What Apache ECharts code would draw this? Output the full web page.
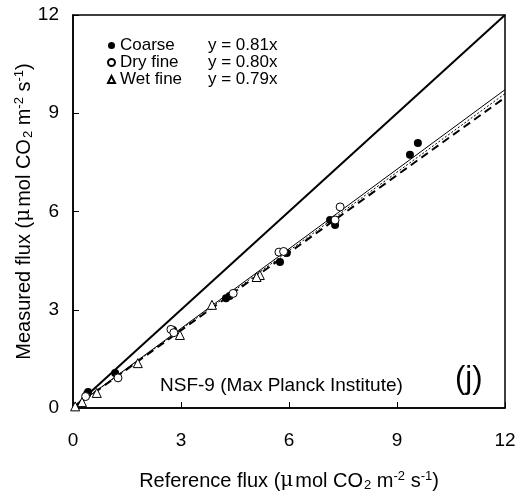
<!DOCTYPE html>
<html>
<head>
<meta charset="utf-8">
<script src="https://cdn.jsdelivr.net/npm/echarts@6/dist/echarts.min.js"></script>
<style>
  html, body { margin: 0; padding: 0; background: #fff; }
  #chart { width: 523px; height: 499px; }
</style>
</head>
<body>
<div id="chart"></div>
<script>
// 数据
const coarsePoints = [
    [0.39, 0.43], [0.42, 0.49], [1.17, 1.07], [2.78, 2.38], [4.25, 3.35],
    [4.35, 3.42], [5.75, 4.46], [5.94, 4.73], [7.14, 5.74], [7.28, 5.59],
    [9.36, 7.73], [9.58, 8.09]
];
const dryFinePoints = [
    [0.35, 0.35], [1.25, 0.92], [2.72, 2.4], [2.8, 2.3], [4.45, 3.5],
    [5.72, 4.76], [5.85, 4.78], [7.28, 5.74], [7.42, 6.14]
];
const wetFinePoints = [
    [0.06, 0.05], [0.25, 0.18], [0.66, 0.46], [1.8, 1.37], [2.97, 2.23],
    [3.86, 3.15], [5.19, 4.06], [5.1, 4.0]
];
const oneToOneLine = [[0, 0], [12, 12]];
const coarseFit = [[0, 0], [12, 9.72]];
const dryFineFit = [[0, 0], [12, 9.6]];
const wetFineFit = [[0, 0], [12, 9.48]];
const seriesNames = ['Coarse', 'Dry fine', 'Wet fine'];
const equations = ['y = 0.81x', 'y = 0.80x', 'y = 0.79x'];
const axisTicks = [0, 3, 6, 9, 12];

const FONT = 'Liberation Sans, Arial, sans-serif';

const chart = echarts.init(document.getElementById('chart'));

const nameRich = {
    n: { fontSize: 20, fontFamily: FONT, color: '#000' },
    mu: { fontSize: 20, fontFamily: 'DejaVu Serif, serif', color: '#000', padding: [0, 2, 0, 0] },
    sub: { fontSize: 13, fontFamily: FONT, color: '#000', padding: [9, 0, 0, 1] },
    sup: { fontSize: 13, fontFamily: FONT, color: '#000', padding: [0, 0, 9, 0] }
};
const axisName = label => '{n|' + label + ' (}{mu|μ}{n|mol CO}{sub|2}{n| m}{sup|-2}{n| s}{sup|-1}{n|)}';

const option = {
    animation: false,
    backgroundColor: '#fff',
    grid: {
        left: 73, right: 18, top: 15, bottom: 91,
        show: true, borderColor: '#000', borderWidth: 1.5
    },
    legend: {
        data: seriesNames,
        orient: 'vertical',
        left: 102, top: 32,
        itemWidth: 7, itemHeight: 7, itemGap: 0,
        textStyle: {
            fontFamily: FONT, fontSize: 17, color: '#000',
            rich: {
                a: { fontFamily: FONT, fontSize: 17, width: 88, color: '#000', lineHeight: 18 },
                b: { fontFamily: FONT, fontSize: 17, color: '#000', lineHeight: 18 }
            }
        },
        formatter: function(name) {
            return '{a|' + name + '}{b|' + equations[seriesNames.indexOf(name)] + '}';
        }
    },
    xAxis: {
        type: 'value', min: 0, max: 12, interval: 3,
        name: axisName('Reference flux'),
        nameLocation: 'middle', nameGap: 62, nameMoveOverlap: false,
        nameTextStyle: { rich: nameRich },
        axisLine: { lineStyle: { color: '#000', width: 1.5 } },
        axisTick: { inside: true, length: 6, lineStyle: { color: '#000' } },
        axisLabel: {
            margin: 23, fontSize: 19, fontFamily: FONT, color: '#000',
            formatter: v => axisTicks.includes(v) ? String(v) : ''
        },
        splitLine: { show: false }
    },
    yAxis: {
        type: 'value', min: 0, max: 12, interval: 3,
        name: axisName('Measured flux'),
        nameLocation: 'middle', nameGap: 38, nameMoveOverlap: false,
        nameTextStyle: { rich: nameRich },
        axisLine: { lineStyle: { color: '#000', width: 1.5 } },
        axisTick: { inside: true, length: 6, lineStyle: { color: '#000' } },
        axisLabel: {
            margin: 14, fontSize: 19, fontFamily: FONT, color: '#000',
            formatter: v => axisTicks.includes(v) ? String(v) : ''
        },
        splitLine: { show: false }
    },
    series: [
        {
            name: '1:1', type: 'line', data: oneToOneLine, symbol: 'none',
            lineStyle: { color: '#000', width: 2 }, z: 1
        },
        {
            name: 'Coarse fit', type: 'line', data: coarseFit, symbol: 'none',
            lineStyle: { color: '#000', width: 1 }, z: 1
        },
        {
            name: 'Dry fine fit', type: 'line', data: dryFineFit, symbol: 'none',
            lineStyle: { color: '#000', width: 1, type: [2, 2] }, z: 1
        },
        {
            name: 'Wet fine fit', type: 'line', data: wetFineFit, symbol: 'none',
            lineStyle: { color: '#000', width: 2, type: [8, 5] }, z: 1
        },
        {
            name: 'Coarse', type: 'scatter', data: coarsePoints,
            symbol: 'circle', symbolSize: 8,
            itemStyle: { color: '#000', opacity: 1 }, z: 3
        },
        {
            name: 'Dry fine', type: 'scatter', data: dryFinePoints,
            symbol: 'circle', symbolSize: 8,
            itemStyle: { color: '#fff', borderColor: '#000', borderWidth: 1, opacity: 1 }, z: 3
        },
        {
            name: 'Wet fine', type: 'scatter', data: wetFinePoints,
            symbol: 'triangle', symbolSize: 9,
            itemStyle: { color: '#fff', borderColor: '#000', borderWidth: 1, opacity: 1 }, z: 3
        }
    ],
    graphic: [
        {
            type: 'text', left: 160, top: 376,
            style: { text: 'NSF-9 (Max Planck Institute)', font: '19px ' + FONT, fill: '#000' }
        },
        {
            type: 'text', left: 455, top: 364,
            style: { text: '(j)', font: '31px ' + FONT, fill: '#000' }
        }
    ]
};

chart.setOption(option);
</script>
</body>
</html>
